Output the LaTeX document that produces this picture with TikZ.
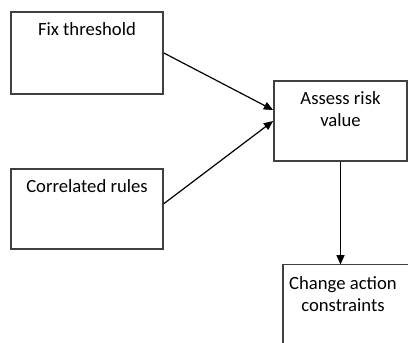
\documentclass[tikz,border=0pt]{standalone}
\usepackage{fontspec}
\setmainfont{Carlito}
\usetikzlibrary{arrows.meta,calc}
\begin{document}
\begin{tikzpicture}[x=0.75pt,y=-0.75pt,
  box/.style={draw=black!75, line width=1.3pt, inner sep=0pt, anchor=center},
  edge/.style={draw=black!75, line width=1.3pt, line cap=rect},
  txt/.style={anchor=north, inner sep=0pt, align=center, font=\fontsize{14}{16.5}\selectfont, yshift=-8.5pt},
  conn/.style={draw=black, line width=0.9pt, -{Triangle[length=7pt,width=6pt]}}]
\useasboundingbox (0,0) rectangle (408,343);
\fill[white] (0,0) rectangle (408,343);
\node[box, minimum width=114pt, minimum height=61.5pt] (b1) at (87,53) {};
\node[box, minimum width=114pt, minimum height=60pt] (b2) at (87,209) {};
\node[box, minimum width=99.75pt, minimum height=60pt] (b3) at (340.5,121) {};
\coordinate (b4nw) at (283,264.5);
\coordinate (b4ne) at (408,264.5);
\coordinate (b4sw) at (283,343);
\draw[edge] (b4nw) -- (b4ne);
\draw[edge] (b4nw) -- (b4sw);
\node[txt] (t1) at (b1.north) {Fix threshold};
\node[txt] (t2) at (b2.north) {Correlated rules};
\node[txt] (t3) at (b3.north) {Assess risk\\value};
\node[txt] (t4) at (343,264.5) {Change action\\constraints};
\draw[conn] (b1.east) -- ([yshift=8.25pt]b3.west);
\draw[conn] ([yshift=4pt]b2.east) -- (b3.west);
\draw[conn] (b3.south) -- (b3.south |- b4nw);
\end{tikzpicture}
\end{document}
